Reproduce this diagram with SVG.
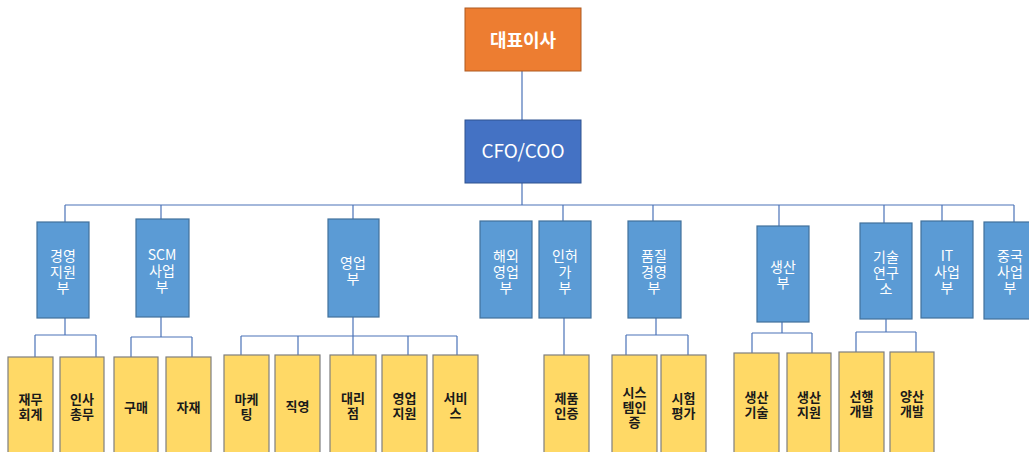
<svg xmlns="http://www.w3.org/2000/svg" width="1029" height="452" viewBox="0 0 1029 452">
<style>
.top{fill:#ED7D31;stroke:#AE5A21;stroke-width:1}
.cfo{fill:#4472C4;stroke:#2F528F;stroke-width:1}
.dept{fill:#5B9BD5;stroke:#41719C;stroke-width:1.2}
.team{fill:#FFD966;stroke:#7F7F7F;stroke-width:1.2}
.w{fill:#fff;font-family:"Noto Sans CJK KR","Noto Sans",sans-serif;text-anchor:middle}
.d{font-size:14px}
.k{fill:#1a1a1a;font-family:"Noto Sans CJK KR","Noto Sans",sans-serif;font-size:13px;font-weight:bold;text-anchor:middle}
#conn line{stroke:#4A72B8;stroke-width:1.2;fill:none}
</style>
<g id="conn">
<line x1="522" y1="71" x2="522" y2="120"/>
<line x1="522" y1="183" x2="522" y2="205"/>
<line x1="65" y1="205" x2="1014" y2="205"/>
<line x1="65" y1="205" x2="65" y2="222"/>
<line x1="161" y1="205" x2="161" y2="219"/>
<line x1="353" y1="205" x2="353" y2="219"/>
<line x1="563" y1="205" x2="563" y2="221"/>
<line x1="653" y1="205" x2="653" y2="221"/>
<line x1="779" y1="205" x2="779" y2="226"/>
<line x1="884" y1="205" x2="884" y2="223"/>
<line x1="942" y1="205" x2="942" y2="221"/>
<line x1="1014" y1="205" x2="1014" y2="222"/>
<line x1="65" y1="318" x2="65" y2="335"/>
<line x1="35" y1="335" x2="96" y2="335"/>
<line x1="35" y1="335" x2="35" y2="357"/>
<line x1="96" y1="335" x2="96" y2="357"/>
<line x1="161" y1="317" x2="161" y2="337"/>
<line x1="131" y1="337" x2="192" y2="337"/>
<line x1="131" y1="337" x2="131" y2="357"/>
<line x1="192" y1="337" x2="192" y2="357"/>
<line x1="353" y1="317" x2="353" y2="355"/>
<line x1="241" y1="336" x2="457" y2="336"/>
<line x1="241" y1="336" x2="241" y2="355"/>
<line x1="298" y1="336" x2="298" y2="355"/>
<line x1="408" y1="336" x2="408" y2="355"/>
<line x1="457" y1="336" x2="457" y2="355"/>
<line x1="564" y1="318" x2="564" y2="355"/>
<line x1="656" y1="318" x2="656" y2="335"/>
<line x1="626" y1="335" x2="688" y2="335"/>
<line x1="626" y1="335" x2="626" y2="355"/>
<line x1="688" y1="335" x2="688" y2="355"/>
<line x1="782" y1="322" x2="782" y2="333"/>
<line x1="752" y1="333" x2="812" y2="333"/>
<line x1="752" y1="333" x2="752" y2="353"/>
<line x1="812" y1="333" x2="812" y2="353"/>
<line x1="886" y1="319" x2="886" y2="332"/>
<line x1="856" y1="332" x2="916" y2="332"/>
<line x1="856" y1="332" x2="856" y2="352"/>
<line x1="916" y1="332" x2="916" y2="352"/>
</g>
<g id="ceo"><rect class="top" x="465" y="8" width="116" height="63"/><text class="w" x="523" y="47" font-size="18" font-weight="bold">대표이사</text></g>
<g id="cfo"><rect class="cfo" x="465" y="120" width="116" height="63"/><text class="w" x="523" y="158" font-size="19">CFO/COO</text></g>

<g id="d1"><rect class="dept" x="37" y="222" width="52" height="96"/><text class="w d" x="63"><tspan x="63" y="261">경영</tspan><tspan x="63" y="277">지원</tspan><tspan x="63" y="293">부</tspan></text></g>
<g id="d2"><rect class="dept" x="136" y="219" width="53" height="98"/><text class="w d"><tspan x="162" y="260">SCM</tspan><tspan x="162" y="276">사업</tspan><tspan x="162" y="292">부</tspan></text></g>
<g id="d3"><rect class="dept" x="328" y="219" width="51" height="98"/><text class="w d"><tspan x="353" y="268">영업</tspan><tspan x="353" y="284">부</tspan></text></g>
<g id="d4"><rect class="dept" x="480" y="221" width="52" height="97"/><text class="w d"><tspan x="506" y="261">해외</tspan><tspan x="506" y="277">영업</tspan><tspan x="506" y="293">부</tspan></text></g>
<g id="d5"><rect class="dept" x="539" y="221" width="52" height="97"/><text class="w d"><tspan x="565" y="261">인허</tspan><tspan x="565" y="277">가</tspan><tspan x="565" y="293">부</tspan></text></g>
<g id="d6"><rect class="dept" x="628" y="221" width="53" height="97"/><text class="w d"><tspan x="654" y="261">품질</tspan><tspan x="654" y="277">경영</tspan><tspan x="654" y="293">부</tspan></text></g>
<g id="d7"><rect class="dept" x="757" y="226" width="52" height="96"/><text class="w d"><tspan x="783" y="272">생산</tspan><tspan x="783" y="288">부</tspan></text></g>
<g id="d8"><rect class="dept" x="860" y="223" width="52" height="96"/><text class="w d"><tspan x="886" y="262">기술</tspan><tspan x="886" y="278">연구</tspan><tspan x="886" y="294">소</tspan></text></g>
<g id="d9"><rect class="dept" x="921" y="221" width="52" height="97"/><text class="w d"><tspan x="947" y="261">IT</tspan><tspan x="947" y="277">사업</tspan><tspan x="947" y="293">부</tspan></text></g>
<g id="d10"><rect class="dept" x="984" y="222" width="52" height="97"/><text class="w d"><tspan x="1010" y="261">중국</tspan><tspan x="1010" y="277">사업</tspan><tspan x="1010" y="293">부</tspan></text></g>

<g id="t1"><rect class="team" x="8" y="357" width="45" height="100"/><text class="k"><tspan x="30.5" y="404">재무</tspan><tspan x="30.5" y="419">회계</tspan></text></g>
<g id="t2"><rect class="team" x="60" y="357" width="44" height="100"/><text class="k"><tspan x="82" y="404">인사</tspan><tspan x="82" y="419">총무</tspan></text></g>
<g id="t3"><rect class="team" x="114" y="357" width="44" height="100"/><text class="k"><tspan x="136" y="412">구매</tspan></text></g>
<g id="t4"><rect class="team" x="166" y="357" width="45" height="100"/><text class="k"><tspan x="188.5" y="412">자재</tspan></text></g>
<g id="t5"><rect class="team" x="224" y="355" width="45" height="102"/><text class="k"><tspan x="246.5" y="404">마케</tspan><tspan x="246.5" y="419">팅</tspan></text></g>
<g id="t6"><rect class="team" x="275" y="355" width="45" height="102"/><text class="k"><tspan x="297.5" y="411">직영</tspan></text></g>
<g id="t7"><rect class="team" x="330" y="355" width="46" height="102"/><text class="k"><tspan x="353" y="403">대리</tspan><tspan x="353" y="418">점</tspan></text></g>
<g id="t8"><rect class="team" x="382" y="355" width="45" height="102"/><text class="k"><tspan x="404.5" y="403">영업</tspan><tspan x="404.5" y="418">지원</tspan></text></g>
<g id="t9"><rect class="team" x="433" y="355" width="45" height="102"/><text class="k"><tspan x="455.5" y="403">서비</tspan><tspan x="455.5" y="418">스</tspan></text></g>
<g id="t10"><rect class="team" x="544" y="355" width="45" height="102"/><text class="k"><tspan x="566.5" y="403">제품</tspan><tspan x="566.5" y="418">인증</tspan></text></g>
<g id="t11"><rect class="team" x="612" y="355" width="45" height="102"/><text class="k"><tspan x="634.5" y="397">시스</tspan><tspan x="634.5" y="412">템인</tspan><tspan x="634.5" y="427">증</tspan></text></g>
<g id="t12"><rect class="team" x="661" y="355" width="45" height="102"/><text class="k"><tspan x="683.5" y="403">시험</tspan><tspan x="683.5" y="418">평가</tspan></text></g>
<g id="t13"><rect class="team" x="734" y="353" width="45" height="104"/><text class="k"><tspan x="756.5" y="402">생산</tspan><tspan x="756.5" y="417">기술</tspan></text></g>
<g id="t14"><rect class="team" x="787" y="353" width="44" height="104"/><text class="k"><tspan x="809" y="402">생산</tspan><tspan x="809" y="417">지원</tspan></text></g>
<g id="t15"><rect class="team" x="839" y="352" width="45" height="105"/><text class="k"><tspan x="861.5" y="401">선행</tspan><tspan x="861.5" y="416">개발</tspan></text></g>
<g id="t16"><rect class="team" x="890" y="352" width="44" height="105"/><text class="k"><tspan x="912" y="401">양산</tspan><tspan x="912" y="416">개발</tspan></text></g>
</svg>
